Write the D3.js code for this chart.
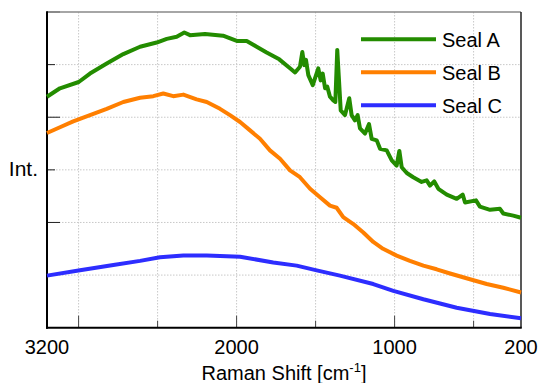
<!DOCTYPE html>
<html>
<head>
<meta charset="utf-8">
<script src="https://cdn.jsdelivr.net/npm/d3@7"></script>
<style>
  body { margin: 0; background: #fff; }
  svg { display: block; font-family: "Liberation Sans", Arial, sans-serif; }
</style>
</head>
<body>
<div id="chart"></div>
<script>
// Raman shift [cm-1] and intensity (a.u.)
const seriesNames = ['Seal A', 'Seal B', 'Seal C'];
const seriesColors = ['#238c00', '#ff7f00', '#2d2dff'];

const sealA = [
    [3200, 4.39], [3118, 4.55], [2999, 4.67], [2928, 4.83], [2822, 5.02], [2717, 5.20],
    [2611, 5.34], [2506, 5.42], [2442, 5.49], [2379, 5.53], [2331, 5.61], [2295, 5.56],
    [2200, 5.58], [2086, 5.55], [1999, 5.45], [1936, 5.45], [1873, 5.34], [1810, 5.23],
    [1730, 5.10], [1662, 4.93], [1630, 4.85], [1599, 4.96], [1584, 5.24], [1572, 4.99],
    [1561, 5.09], [1546, 4.80], [1518, 4.61], [1483, 4.93], [1468, 4.70], [1455, 4.83],
    [1440, 4.55], [1426, 4.58], [1409, 4.39], [1388, 4.32], [1375, 4.29], [1363, 5.28],
    [1341, 4.13], [1314, 4.04], [1287, 4.36], [1272, 4.04], [1251, 3.94], [1234, 4.04],
    [1219, 3.79], [1187, 3.69], [1162, 3.87], [1145, 3.59], [1113, 3.56], [1092, 3.40],
    [1050, 3.37], [1018, 3.18], [987, 3.08], [970, 3.36], [955, 3.05], [923, 2.94],
    [882, 2.86], [829, 2.77], [797, 2.80], [776, 2.70], [749, 2.78], [723, 2.64],
    [670, 2.53], [607, 2.45], [569, 2.53], [554, 2.38], [485, 2.42], [460, 2.30],
    [396, 2.24], [333, 2.26], [312, 2.17], [249, 2.13], [200, 2.09]
];
const sealB = [
    [3200, 3.70], [3118, 3.81], [3034, 3.92], [2928, 4.04], [2822, 4.16], [2717, 4.29],
    [2611, 4.37], [2527, 4.40], [2464, 4.45], [2401, 4.40], [2337, 4.43], [2253, 4.34],
    [2189, 4.29], [2105, 4.16], [2042, 4.04], [1978, 3.91], [1915, 3.75], [1852, 3.59],
    [1789, 3.37], [1725, 3.21], [1662, 2.99], [1599, 2.86], [1535, 2.64], [1472, 2.48],
    [1409, 2.32], [1367, 2.28], [1325, 2.10], [1261, 1.97], [1198, 1.81], [1135, 1.63],
    [1073, 1.50], [987, 1.37], [903, 1.27], [818, 1.18], [734, 1.11], [649, 1.03],
    [523, 0.92], [417, 0.83], [312, 0.76], [200, 0.67]
];
const sealC = [
    [3200, 0.99], [2991, 1.09], [2780, 1.19], [2611, 1.27], [2485, 1.34], [2337, 1.37],
    [2189, 1.37], [1978, 1.35], [1768, 1.24], [1620, 1.18], [1493, 1.09], [1346, 0.99],
    [1135, 0.83], [1008, 0.70], [818, 0.54], [607, 0.38], [396, 0.26], [200, 0.18]
];
const xTickLabels = [3200, 2000, 1000, 200];
const xGrid = [3000, 2500, 2000, 1500, 1000, 500];
const xMajor = [3000, 2000, 1000];
const yGrid = [1, 2, 3, 4, 5];
const yMajor = [2, 4, 6];

function drawChart() {
    const width = 541, height = 383;
    const margin = { left: 47, right: 20, top: 12, bottom: 56 };
    const svg = d3.select('#chart').append('svg')
        .attr('width', width)
        .attr('height', height);

    const x = d3.scaleLinear()
        .domain([3200, 200])
        .range([margin.left, width - margin.right]);
    const y = d3.scaleLinear()
        .domain([0, 6])
        .range([height - margin.bottom + 0.7, margin.top]);

    const x0 = x.range()[0], x1 = x.range()[1];
    const y0 = y.range()[0], y1 = y.range()[1];

    // grid
    svg.append('g').selectAll('line')
        .data(xGrid).enter().append('line')
        .attr('x1', d => x(d)).attr('x2', d => x(d))
        .attr('y1', y1).attr('y2', y0)
        .attr('stroke', '#c8c8c8').attr('stroke-width', 1)
        .attr('stroke-dasharray', '1.5,1.5');
    svg.append('g').selectAll('line')
        .data(yGrid).enter().append('line')
        .attr('x1', x0).attr('x2', x1)
        .attr('y1', d => y(d)).attr('y2', d => y(d))
        .attr('stroke', '#c8c8c8').attr('stroke-width', 1)
        .attr('stroke-dasharray', '1.5,1.5');

    // inward ticks
    svg.append('g').selectAll('line')
        .data(xGrid).enter().append('line')
        .attr('x1', d => x(d)).attr('x2', d => x(d))
        .attr('y1', y0)
        .attr('y2', d => y0 - (xMajor.includes(d) ? 12 : 7))
        .attr('stroke', '#444').attr('stroke-width', 1);
    svg.append('g').selectAll('line')
        .data([1, 2, 3, 4, 5, 6]).enter().append('line')
        .attr('x1', x0)
        .attr('x2', d => x0 + (yMajor.includes(d) ? 13 : 8))
        .attr('y1', d => y(d)).attr('y2', d => y(d))
        .attr('stroke', '#222').attr('stroke-width', 1);

    // frame
    svg.append('line').attr('x1', x0).attr('x2', x1).attr('y1', y1).attr('y2', y1)
        .attr('stroke', '#888').attr('stroke-width', 1.5);
    svg.append('line').attr('x1', x1).attr('x2', x1).attr('y1', y1).attr('y2', y0)
        .attr('stroke', '#222').attr('stroke-width', 1.5);
    svg.append('line').attr('x1', x0).attr('x2', x0).attr('y1', y1 - 0.75).attr('y2', y0 + 1)
        .attr('stroke', '#000').attr('stroke-width', 2);
    svg.append('line').attr('x1', x0 - 1).attr('x2', x1 + 0.75).attr('y1', y0).attr('y2', y0)
        .attr('stroke', '#000').attr('stroke-width', 2);

    // lines
    const lineBuilder = d3.line()
        .x(d => x(d[0]))
        .y(d => y(d[1]));
    const allSeries = [sealA, sealB, sealC];
    const lines_g = svg.append('g');
    lines_g.selectAll('path')
        .data(allSeries.slice().reverse())
        .enter().append('path')
        .attr('d', d => lineBuilder(d))
        .attr('fill', 'none')
        .attr('stroke', (d, i) => seriesColors[2 - i])
        .attr('stroke-width', 4)
        .attr('stroke-linejoin', 'round');

    // tick labels
    svg.append('g').selectAll('text')
        .data(xTickLabels).enter().append('text')
        .attr('x', d => x(d))
        .attr('y', 354)
        .attr('text-anchor', 'middle')
        .attr('font-size', 20)
        .text(d => d);

    // axis titles
    const xt = svg.append('text')
        .attr('x', (x0 + x1) / 2)
        .attr('y', 380)
        .attr('text-anchor', 'middle')
        .attr('font-size', 20)
        .text('Raman Shift [cm');
    xt.append('tspan').attr('font-size', 13).attr('dy', -8).text('-1');
    xt.append('tspan').attr('dy', 8).text(']');

    svg.append('text')
        .attr('x', 38)
        .attr('y', 176)
        .attr('text-anchor', 'end')
        .attr('font-size', 21)
        .text('Int.');

    // legend
    const legend = svg.append('g');
    seriesNames.forEach((name, i) => {
        const ly = 39.3 + i * 33;
        legend.append('line')
            .attr('x1', 361).attr('x2', 436)
            .attr('y1', ly).attr('y2', ly)
            .attr('stroke', seriesColors[i])
            .attr('stroke-width', 4);
        legend.append('text')
            .attr('x', 442)
            .attr('y', ly + 7.5)
            .attr('font-size', 20)
            .text(name);
    });
}
drawChart();
</script>
</body>
</html>
